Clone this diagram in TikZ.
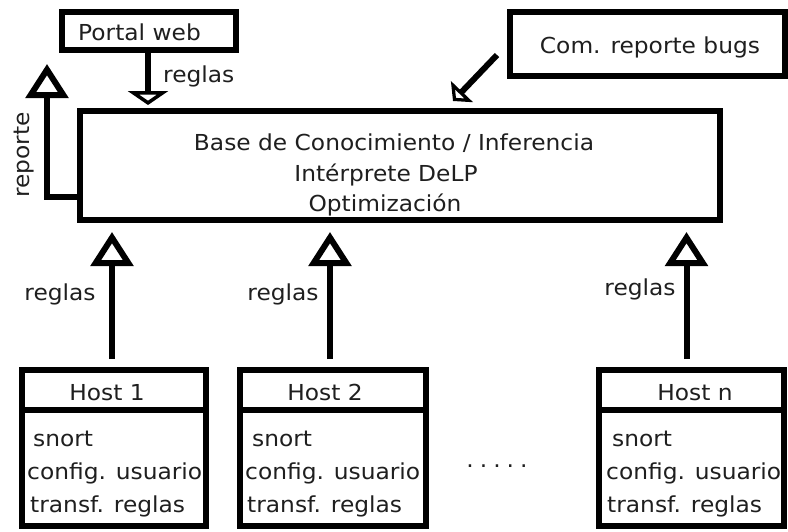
\documentclass[tikz,border=0pt]{standalone}
\usepackage{fontspec}
\setmainfont{DejaVu Sans}[FakeStretch=1.06]
\usetikzlibrary{arrows.meta}
\newcommand{\dgfont}{\fontsize{22}{26}\selectfont}
\begin{document}
\begin{tikzpicture}[x=1pt,y=-1pt,
  box/.style={draw=black, line width=6pt, rectangle, inner sep=0pt, fill=white},
  lbl/.style={font=\dgfont, text=black!88, inner sep=0pt},
  bigarr/.style={line width=6pt, -{Triangle[open, length=34pt, width=42pt]}},
  smallarr/.style={line width=6pt, -{Triangle[open, length=14pt, width=40pt]}},
  tinyarr/.style={line width=6pt, -{Triangle[open, length=13pt, width=30pt]}},
  divider/.style={line width=6pt}
]
\useasboundingbox (0,0) rectangle (788,531);

% top boxes
\node[box, minimum width=174pt, minimum height=38pt] (portal) at (149,31) {};
\node[lbl, anchor=base] (portaltxt) at (139.5,40) {Portal web};
\node[box, minimum width=275pt, minimum height=64pt] (com) at (647.5,44) {};
\node[lbl, anchor=base] (comtxt) at (650,53) {Com. reporte bugs};

% main box
\node[box, minimum width=640pt, minimum height=109pt] (base) at (400,165.5) {};
\node[lbl, anchor=base] (b1) at (394,150) {Base de Conocimiento / Inferencia};
\node[lbl, anchor=base] (b2) at (386,181) {Intérprete DeLP};
\node[lbl, anchor=base] (b3) at (385,211) {Optimización};

% hosts
\node[box, minimum width=184pt, minimum height=156pt] (h1) at (114,448) {};
\node[box, minimum width=186pt, minimum height=156pt] (h2) at (333,448) {};
\node[box, minimum width=185pt, minimum height=156pt] (hn) at (691.5,448) {};
\draw[divider] (h1.west |- 0,410) -- (h1.east |- 0,410);
\draw[divider] (h2.west |- 0,410) -- (h2.east |- 0,410);
\draw[divider] (hn.west |- 0,410) -- (hn.east |- 0,410);

\node[lbl, anchor=base] (h1t) at (107,400) {Host 1};
\node[lbl, anchor=base] (h2t) at (325,400) {Host 2};
\node[lbl, anchor=base] (hnt) at (695,400) {Host n};

\node[lbl, anchor=base west] (h1a) at (33,446) {snort};
\node[lbl, anchor=base west] (h1b) at (27,479) {config. usuario};
\node[lbl, anchor=base west] (h1c) at (30,512) {transf. reglas};
\node[lbl, anchor=base west] (h2a) at (252,446) {snort};
\node[lbl, anchor=base west] (h2b) at (245,479) {config. usuario};
\node[lbl, anchor=base west] (h2c) at (247,512) {transf. reglas};
\node[lbl, anchor=base west] (hna) at (612,446) {snort};
\node[lbl, anchor=base west] (hnb) at (606,479) {config. usuario};
\node[lbl, anchor=base west] (hnc) at (607,512) {transf. reglas};

\node[lbl, anchor=base] (dots) at (497,467) {.\kern6pt.\kern6pt.\kern6pt.\kern6pt.};

% arrows hosts -> base
\draw[bigarr, shorten <=8pt, shorten >=9pt] ([xshift=-2pt]h1.north) -- ([xshift=-2pt]h1.north |- base.south);
\draw[bigarr, shorten <=8pt, shorten >=9pt] ([xshift=-3pt]h2.north) -- ([xshift=-3pt]h2.north |- base.south);
\draw[bigarr, shorten <=8pt, shorten >=9pt] ([xshift=-5pt]hn.north) -- ([xshift=-5pt]hn.north |- base.south);
\node[lbl, anchor=base] (r1) at (60,300) {reglas};
\node[lbl, anchor=base] (r2) at (283,300) {reglas};
\node[lbl, anchor=base] (rn) at (640,295) {reglas};

% portal -> base
\draw[smallarr, shorten >=3pt] ([xshift=-1pt]portal.south) -- ([xshift=-1pt]portal.south |- base.north);
\node[lbl, anchor=base west] (rp) at (163,82) {reglas};

% reporte
\coordinate (rep) at (47,64);
\draw[bigarr] (base.west |- 0,197) -| (rep);
\node[lbl, rotate=90] (reptxt) at (24,155) {reporte};

% com -> base
\coordinate (c1) at (497,55);
\coordinate (c2) at (453,101);
\draw[tinyarr] (c1) -- (c2);
\end{tikzpicture}
\end{document}
